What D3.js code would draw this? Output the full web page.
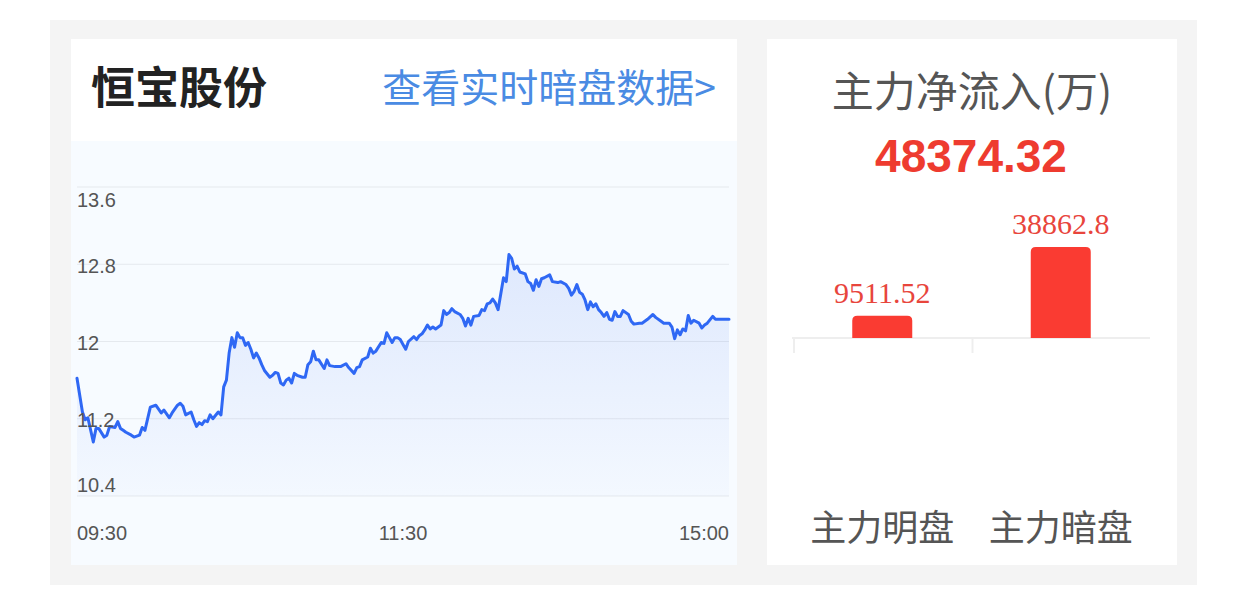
<!DOCTYPE html>
<html>
<head>
<meta charset="utf-8">
<script src="https://cdn.jsdelivr.net/npm/d3@7"></script>
<style>
  html, body { margin: 0; padding: 0; background: #ffffff; }
  svg { display: block; }
</style>
</head>
<body>
<svg id="chart" width="1242" height="600"></svg>
<script>
// ---------- DATA ----------
const stockName = "恒宝股份";
const linkText = "查看实时暗盘数据>";
// minutes since 09:30 (trading minutes, 240 total) and prices
const minutes = [0,2,3,4,6,7,8,10,11,12,14,15,16,17,18,20,21,23,24,25,27,29,31,32,34,35,37,38,39,40,42,43,44,45,46,47,48,49,50,52,53,54,55,56,57,58,59,60,61,62,63,64,65,66,67,68,69,71,72,73,74,75,76,77,78,79,80,81,83,84,85,86,87,88,89,91,92,93,95,97,99,100,102,103,104,105,107,108,109,110,112,113,114,115,116,117,118,119,120,121,122,124,125,126,127,128,129,130,131,132,134,135,136,137,138,139,141,142,143,144,145,146,148,149,150,151,152,153,154,155,157,158,159,160,161,162,163,165,166,167,168,169,170,171,172,174,175,177,178,180,181,182,183,184,185,186,187,188,189,190,191,192,193,194,195,196,197,198,199,200,201,203,204,205,207,208,210,212,213,215,216,218,219,220,221,222,223,224,225,226,227,229,230,231,232,234,235,240];
const prices = [11.62,11.27,11.19,11.21,10.96,11.10,11.10,11.01,11.03,11.12,11.11,11.17,11.10,11.08,11.06,11.03,11.01,11.03,11.11,11.08,11.32,11.34,11.26,11.29,11.21,11.26,11.34,11.36,11.33,11.24,11.27,11.19,11.12,11.16,11.14,11.18,11.17,11.24,11.20,11.27,11.24,11.53,11.60,11.88,12.04,11.94,12.09,12.04,12.04,11.96,11.99,11.92,11.83,11.88,11.83,11.76,11.70,11.63,11.65,11.68,11.67,11.57,11.55,11.60,11.62,11.57,11.67,11.65,11.63,11.63,11.76,11.79,11.90,11.81,11.81,11.72,11.81,11.75,11.74,11.74,11.77,11.73,11.67,11.73,11.74,11.81,11.84,11.93,11.88,11.90,11.99,11.98,12.09,12.04,11.99,12.04,12.04,12.02,11.97,11.92,12.00,12.05,12.02,12.06,12.08,12.12,12.17,12.13,12.15,12.13,12.17,12.32,12.28,12.30,12.34,12.31,12.28,12.24,12.16,12.24,12.17,12.26,12.27,12.33,12.32,12.39,12.40,12.44,12.40,12.33,12.66,12.62,12.90,12.86,12.75,12.78,12.72,12.70,12.62,12.60,12.53,12.64,12.57,12.65,12.66,12.69,12.62,12.61,12.62,12.59,12.55,12.48,12.52,12.59,12.51,12.49,12.43,12.33,12.41,12.36,12.39,12.33,12.30,12.26,12.30,12.23,12.22,12.31,12.26,12.26,12.32,12.28,12.21,12.18,12.19,12.19,12.23,12.28,12.25,12.21,12.19,12.19,12.15,12.03,12.12,12.07,12.13,12.11,12.27,12.19,12.22,12.19,12.14,12.17,12.19,12.26,12.23,12.23];
const yTickValues = [13.6, 12.8, 12, 11.2, 10.4];
const yTickLabels = ["13.6", "12.8", "12", "11.2", "10.4"];
const xTickMinutes = [0, 120, 240];
const xTickLabels = ["09:30", "11:30", "15:00"];

const flowTitle = "主力净流入(万)";
const barCategories = ["主力明盘", "主力暗盘"];
const barValues = [9511.52, 38862.8];
const barLabels = ["9511.52", "38862.8"];
const netInflowLabel = "48374.32";

// ---------- DRAW ----------
const svg = d3.select("#chart");
const sansCJK = "'Noto Sans CJK SC', 'Noto Sans', sans-serif";
const sansNum = "'Liberation Sans', Arial, sans-serif";

// backgrounds
svg.append("rect").attr("x", 50).attr("y", 20).attr("width", 1147).attr("height", 565).attr("fill", "#f4f4f4");
svg.append("rect").attr("x", 71).attr("y", 39).attr("width", 666).attr("height", 526).attr("fill", "#ffffff");
svg.append("rect").attr("x", 71).attr("y", 141).attr("width", 666).attr("height", 424).attr("fill", "#f7fbff");
svg.append("rect").attr("x", 767).attr("y", 39).attr("width", 410).attr("height", 526).attr("fill", "#ffffff");

// header texts
svg.append("text").attr("x", 91).attr("y", 104)
  .attr("font-family", sansCJK).attr("font-size", 44).attr("font-weight", 700)
  .attr("fill", "#222222").text(stockName);
svg.append("text").attr("x", 716).attr("y", 102).attr("text-anchor", "end")
  .attr("font-family", sansCJK).attr("font-size", 39)
  .attr("fill", "#4a8be3").text(linkText);

// line chart
const x = d3.scaleLinear().domain([0, 240]).range([77, 729]);
const y = d3.scaleLinear().domain([10.4, 13.6]).range([496, 187]);
const data = minutes.map((m, i) => ({ m, p: prices[i] }));

const g = svg.append("g");
g.selectAll("line.grid").data(yTickValues).enter().append("line")
  .attr("x1", 77).attr("x2", 729)
  .attr("y1", d => y(d)).attr("y2", d => y(d))
  .attr("stroke", "#e5e9ee").attr("stroke-width", 1.2);

const defs = svg.append("defs");
const grad = defs.append("linearGradient").attr("id", "areaGrad")
  .attr("x1", 0).attr("y1", 0).attr("x2", 0).attr("y2", 1);
grad.append("stop").attr("offset", "0%").attr("stop-color", "#3a6cf0").attr("stop-opacity", 0.13);
grad.append("stop").attr("offset", "100%").attr("stop-color", "#3a6cf0").attr("stop-opacity", 0.02);

g.append("path").datum(data)
  .attr("fill", "url(#areaGrad)")
  .attr("d", d3.area().x(d => x(d.m)).y0(y(10.4)).y1(d => y(d.p)));
g.append("path").datum(data)
  .attr("fill", "none").attr("stroke", "#2f68f4").attr("stroke-width", 3)
  .attr("stroke-linejoin", "round").attr("stroke-linecap", "round")
  .attr("d", d3.line().x(d => x(d.m)).y(d => y(d.p)));

// y labels (F2 style: top label below line, bottom label above line)
g.selectAll("text.ylab").data(yTickValues).enter().append("text")
  .attr("x", 77)
  .attr("y", (d, i) => i === 0 ? y(d) + 20 : (i === yTickValues.length - 1 ? y(d) - 4 : y(d) + 8.5))
  .attr("font-family", sansNum).attr("font-size", 20).attr("fill", "#555555")
  .text((d, i) => yTickLabels[i]);

// x labels
g.selectAll("text.xlab").data(xTickMinutes).enter().append("text")
  .attr("x", d => x(d)).attr("y", 540)
  .attr("text-anchor", (d, i) => i === 0 ? "start" : (i === xTickMinutes.length - 1 ? "end" : "middle"))
  .attr("font-family", sansNum).attr("font-size", 20).attr("fill", "#555555")
  .text((d, i) => xTickLabels[i]);

// right card
svg.append("text").attr("x", 972).attr("y", 107).attr("text-anchor", "middle")
  .attr("font-family", sansCJK).attr("font-size", 42).attr("fill", "#555555").text(flowTitle);
svg.append("text").attr("x", 971).attr("y", 172).attr("text-anchor", "middle")
  .attr("font-family", sansNum).attr("font-size", 46).attr("font-weight", 700)
  .attr("fill", "#ee3b2f").text(netInflowLabel);

const bx = d3.scaleBand().domain(barCategories).range([793, 1150]).padding(0);
const by = d3.scaleLinear().domain([0, d3.max(barValues)]).range([338, 247]);
const barW = 60, r = 5;

// axis line + ticks
svg.append("line").attr("x1", 792).attr("x2", 1150).attr("y1", 338).attr("y2", 338)
  .attr("stroke", "#eeeeee").attr("stroke-width", 2);
svg.selectAll("line.btick").data(barCategories).enter().append("line")
  .attr("x1", d => bx(d) + 1).attr("x2", d => bx(d) + 1)
  .attr("y1", 338).attr("y2", 353)
  .attr("stroke", "#eeeeee").attr("stroke-width", 2);

svg.selectAll("path.bar").data(barCategories).enter().append("path")
  .attr("fill", "#fa3b32")
  .attr("d", (d, i) => {
    const cx = bx(d) + bx.bandwidth() / 2;
    const x0 = cx - barW / 2, x1 = cx + barW / 2;
    const y0 = by(0), y1 = by(barValues[i]);
    return `M${x0},${y0}V${y1 + r}Q${x0},${y1} ${x0 + r},${y1}H${x1 - r}Q${x1},${y1} ${x1},${y1 + r}V${y0}Z`;
  });

svg.selectAll("text.blab").data(barCategories).enter().append("text")
  .attr("x", d => bx(d) + bx.bandwidth() / 2)
  .attr("y", (d, i) => by(barValues[i]) - 13)
  .attr("text-anchor", "middle")
  .attr("font-family", "'Liberation Serif', 'Times New Roman', serif").attr("font-size", 30)
  .attr("fill", "#e8453c")
  .text((d, i) => barLabels[i]);

svg.selectAll("text.bcat").data(barCategories).enter().append("text")
  .attr("x", d => bx(d) + bx.bandwidth() / 2)
  .attr("y", 541)
  .attr("text-anchor", "middle")
  .attr("font-family", sansCJK).attr("font-size", 36).attr("fill", "#555555")
  .text(d => d);
</script>
</body>
</html>
